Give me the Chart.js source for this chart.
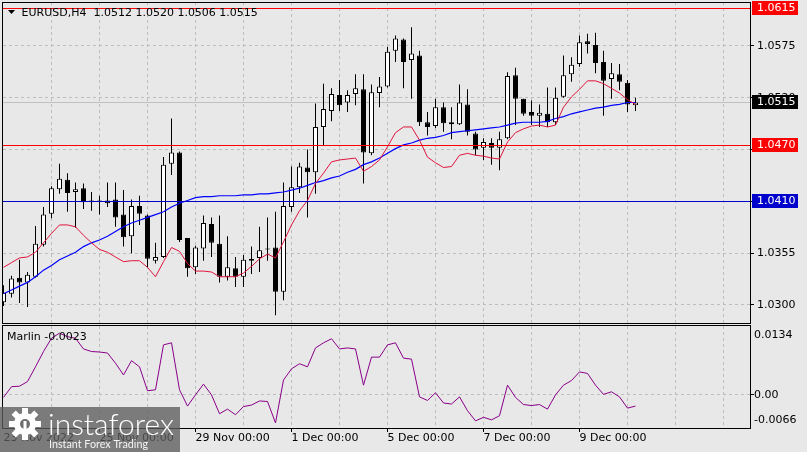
<!DOCTYPE html>
<html><head><meta charset="utf-8">
<script src="https://cdn.jsdelivr.net/npm/chart.js@4.4.0/dist/chart.umd.min.js"></script>
<style>html,body{margin:0;padding:0;background:#e8e8e8;overflow:hidden}#wrap{width:807px;height:452px;position:relative}canvas{display:block}</style>
</head><body><div id="wrap"><canvas id="c" width="807" height="452"></canvas></div>
<script>
// ---------- DATA ----------
const symbol = "EURUSD,H4";
const open = [1.0303,1.0312,1.0329,1.0324,1.0330,1.0364,1.0397,1.0423,1.0433,1.0420,
1.0424,1.0411,1.0410,1.0411,1.0412,1.0396,1.0373,1.0405,1.0395,1.0347,
1.0351,1.0450,1.0462,1.0371,1.0340,1.0360,1.0386,1.0365,1.0330,1.0339,
1.0330,1.0349,1.0350,1.0359,1.0361,1.0314,1.0404,1.0425,1.0446,1.0441,
1.0489,1.0506,1.0523,1.0515,1.0524,1.0529,1.0461,1.0525,1.0532,1.0570,
1.0582,1.0560,1.0565,1.0494,1.0490,1.0510,1.0494,1.0492,1.0513,1.0482,
1.0467,1.0472,1.0467,1.0477,1.0544,1.0519,1.0505,1.0501,1.0503,1.0494,
1.0521,1.0545,1.0556,1.0580,1.0576,1.0558,1.0540,1.0545,1.0536,1.0512];
const high = [1.0321,1.0331,1.0348,1.0335,1.0384,1.0404,1.0426,1.0450,1.0440,1.0430,
1.0429,1.0420,1.0416,1.0430,1.0430,1.0422,1.0412,1.0416,1.0396,1.0366,
1.0457,1.0498,1.0463,1.0371,1.0363,1.0395,1.0393,1.0395,1.0373,1.0351,
1.0353,1.0362,1.0383,1.0393,1.0399,1.0430,1.0447,1.0451,1.0465,1.0514,
1.0535,1.0530,1.0539,1.0528,1.0545,1.0545,1.0534,1.0542,1.0574,1.0586,
1.0583,1.0595,1.0570,1.0505,1.0519,1.0515,1.0510,1.0534,1.0529,1.0484,
1.0477,1.0477,1.0484,1.0547,1.0552,1.0519,1.0517,1.0513,1.0531,1.0531,
1.0565,1.0563,1.0586,1.0588,1.0589,1.0570,1.0557,1.0556,1.0539,1.0520];
const low = [1.0299,1.0308,1.0302,1.0298,1.0329,1.0362,1.0392,1.0418,1.0399,1.0382,
1.0402,1.0400,1.0396,1.0404,1.0383,1.0362,1.0355,1.0385,1.0340,1.0344,
1.0350,1.0438,1.0367,1.0330,1.0333,1.0347,1.0351,1.0324,1.0326,1.0319,
1.0319,1.0333,1.0335,1.0347,1.0289,1.0305,1.0399,1.0419,1.0393,1.0418,
1.0470,1.0495,1.0506,1.0505,1.0512,1.0429,1.0459,1.0510,1.0531,1.0558,
1.0530,1.0519,1.0490,1.0480,1.0488,1.0484,1.0476,1.0491,1.0480,1.0459,
1.0454,1.0449,1.0443,1.0476,1.0491,1.0501,1.0491,1.0489,1.0489,1.0491,
1.0520,1.0537,1.0553,1.0567,1.0546,1.0501,1.0519,1.0528,1.0505,1.0506];
const close = [1.0313,1.0328,1.0324,1.0332,1.0365,1.0396,1.0424,1.0434,1.0419,1.0423,
1.0409,1.0409,1.0410,1.0408,1.0393,1.0372,1.0405,1.0397,1.0349,1.0351,
1.0449,1.0462,1.0369,1.0339,1.0361,1.0387,1.0366,1.0330,1.0340,1.0330,
1.0348,1.0347,1.0358,1.0360,1.0314,1.0405,1.0425,1.0447,1.0441,1.0489,
1.0508,1.0524,1.0512,1.0523,1.0530,1.0462,1.0526,1.0532,1.0569,1.0583,
1.0558,1.0567,1.0494,1.0489,1.0510,1.0493,1.0492,1.0515,1.0484,1.0465,
1.0473,1.0467,1.0476,1.0543,1.0519,1.0503,1.0501,1.0504,1.0494,1.0520,
1.0544,1.0555,1.0579,1.0577,1.0557,1.0538,1.0546,1.0537,1.0513,1.0515];
const maFast = [1.0340,1.0345,1.0350,1.0351,1.0356,1.0366,1.0376,1.0385,1.0385,1.0383,
1.0374,1.0366,1.0359,1.0356,1.0351,1.0346,1.0347,1.0347,1.0340,1.0330,
1.0346,1.0361,1.0357,1.0344,1.0336,1.0336,1.0335,1.0330,1.0330,1.0330,
1.0334,1.0341,1.0349,1.0354,1.0350,1.0367,1.0385,1.0400,1.0411,1.0429,
1.0440,1.0452,1.0454,1.0455,1.0456,1.0442,1.0447,1.0454,1.0468,1.0483,
1.0489,1.0489,1.0475,1.0457,1.0451,1.0446,1.0447,1.0459,1.0461,1.0459,
1.0458,1.0456,1.0455,1.0473,1.0483,1.0487,1.0490,1.0491,1.0489,1.0491,
1.0510,1.0521,1.0529,1.0538,1.0538,1.0535,1.0530,1.0525,1.0518,1.0513];
const maSlow = [1.0312,1.0316,1.0320,1.0324,1.0330,1.0337,1.0342,1.0348,1.0352,1.0356,
1.0362,1.0366,1.0369,1.0373,1.0378,1.0383,1.0387,1.0390,1.0393,1.0396,
1.0399,1.0404,1.0408,1.0411,1.0414,1.0415,1.0415,1.0416,1.0416,1.0416,
1.0417,1.0417,1.0418,1.0418,1.0419,1.0420,1.0422,1.0424,1.0427,1.0430,
1.0432,1.0435,1.0437,1.0441,1.0444,1.0449,1.0452,1.0456,1.0461,1.0466,
1.0470,1.0472,1.0475,1.0477,1.0478,1.0480,1.0483,1.0484,1.0485,1.0486,
1.0487,1.0488,1.0489,1.0491,1.0493,1.0494,1.0494,1.0494,1.0495,1.0498,
1.0500,1.0503,1.0505,1.0507,1.0509,1.0510,1.0512,1.0513,1.0515,1.0515];
const marlin = [-0.0006,0.0015,0.0016,0.0025,0.0054,0.0084,0.0110,0.0120,0.0113,0.0110,
0.0089,0.0084,0.0083,0.0081,0.0061,0.0038,0.0066,0.0054,0.0007,0.0009,
0.0097,0.0101,0.0009,-0.0023,-0.0001,0.0020,-0.0001,-0.0038,-0.0029,-0.0040,
-0.0024,-0.0021,-0.0013,-0.0014,-0.0056,0.0028,0.0050,0.0060,0.0054,0.0091,
0.0101,0.0109,0.0089,0.0091,0.0089,0.0018,0.0073,0.0073,0.0097,0.0101,
0.0071,0.0069,-0.0005,-0.0012,0.0003,-0.0017,-0.0019,-0.0005,-0.0032,-0.0052,
-0.0045,-0.0050,-0.0042,0.0018,-0.0006,-0.0020,-0.0022,-0.0020,-0.0029,-0.0001,
0.0018,0.0027,0.0044,0.0041,0.0018,0.0000,0.0005,-0.0005,-0.0027,-0.0023];
const timeTickIdx = [0,12,24,36,48,60,72];
const timeTickLabels = ["23 Nov 2022","25 Nov 00:00","29 Nov 00:00","1 Dec 00:00","5 Dec 00:00","7 Dec 00:00","9 Dec 00:00"];
const priceTicks = [1.0300,1.0355,1.0410,1.0465,1.0520,1.0575];
const redLevels = [1.0615,1.0470];
const blueLevels = [1.0410];
const marlinTicks = [0.0134,0.00,-0.0066];

// ---------- CHART ----------
const FONT = '"DejaVu Sans", sans-serif';
const BG = '#e8e8e8';
const GRID = '#bcbcbc';
const N = open.length;
const idx = Array.from({length:N},(_,i)=>i);
const isBull = idx.map(i => close[i] >= open[i]);

const mtPlugin = {
  id:'mt',
  beforeDraw(chart){
    const c = chart.ctx; c.save(); c.fillStyle = BG; c.fillRect(0,0,chart.width,chart.height); c.restore();
  },
  beforeDatasetsDraw(chart){
    const c = chart.ctx, a = chart.chartArea, ys = chart.scales.y, y2 = chart.scales.y2;
    c.save();
    c.lineWidth = 1;
    const z = Math.round(y2.getPixelForValue(0)) + 0.5;
    c.strokeStyle = GRID; c.setLineDash([3,3]);
    c.beginPath(); c.moveTo(a.left, z); c.lineTo(a.right, z); c.stroke();
    c.setLineDash([]);
    const py = Math.round(ys.getPixelForValue(close[N-1])) + 0.5;
    c.strokeStyle = '#c0c0c0';
    c.beginPath(); c.moveTo(a.left, py); c.lineTo(a.right, py); c.stroke();
    c.restore();
  },
  afterDatasetsDraw(chart){
    const c = chart.ctx, a = chart.chartArea, ys = chart.scales.y, y2 = chart.scales.y2;
    c.save();
    c.lineWidth = 1;
    const hline = (v, col) => {
      const p = Math.round(ys.getPixelForValue(v)) + 0.5;
      c.strokeStyle = col; c.beginPath(); c.moveTo(a.left, p); c.lineTo(a.right, p); c.stroke();
    };
    redLevels.forEach(v => hline(v, '#ff0000'));
    blueLevels.forEach(v => hline(v, '#0000cd'));
    // gap between panes + borders
    const mainBottom = Math.round(ys.getPixelForValue(ys.min)) ;
    c.fillStyle = BG; c.fillRect(0, 324, a.right + 1, 2);
    c.strokeStyle = '#000';
    c.strokeRect(2.5, 2.5, a.right - 2, 321);
    c.strokeRect(2.5, 325.5, a.right - 2, a.bottom - 325);
    // price boxes
    c.font = '11px ' + FONT; c.textBaseline = 'middle'; c.textAlign = 'left';
    const box = (v, bg) => {
      const p = Math.round(ys.getPixelForValue(v));
      c.fillStyle = bg; c.fillRect(752, p - 7, 46, 14);
      c.fillStyle = '#fff'; c.fillText(v.toFixed(4), 757, p + 0.5);
    };
    box(close[N-1], '#000000');
    redLevels.forEach(v => box(v, '#ff0000'));
    blueLevels.forEach(v => box(v, '#0000cd'));
    // oscillator labels
    c.fillStyle = '#000';
    c.fillText(marlinTicks[0].toFixed(4), 754, y2.getPixelForValue(marlinTicks[0]) + 9);
    c.fillText(marlinTicks[1].toFixed(2), 754, y2.getPixelForValue(marlinTicks[1]) + 1);
    c.fillText(marlinTicks[2].toFixed(4), 754, y2.getPixelForValue(marlinTicks[2]) - 8);
    c.beginPath(); const zz = Math.round(y2.getPixelForValue(0)) + 0.5;
    c.moveTo(a.right, zz); c.lineTo(a.right + 4, zz); c.stroke();
    // title
    c.beginPath(); c.moveTo(8, 10); c.lineTo(15, 10); c.lineTo(11.5, 14); c.closePath(); c.fill();
    const title = symbol + '  ' + [open[N-1], high[N-1], low[N-1], close[N-1]].map(v => v.toFixed(4)).join(' ');
    c.fillText(title, 21.5, 13);
    c.fillText('Marlin ' + marlin[N-1].toFixed(4), 7, 337);
    c.restore();
  },
  afterDraw(chart){
    const c = chart.ctx;
    c.save();
    c.fillStyle = 'rgba(92,92,92,0.78)';
    c.fillRect(0, 407, 180, 45);
    const gx = 25, gy = 424;
    c.fillStyle = '#ffffff';
    c.beginPath(); c.arc(gx, gy, 11, 0, Math.PI * 2); c.fill();
    for (let k = 0; k < 8; k++) {
      c.save(); c.translate(gx, gy); c.rotate(k * Math.PI / 4);
      c.fillRect(-3, -16, 6, 7); c.restore();
    }
    c.fillStyle = 'rgba(110,110,110,1)';
    c.beginPath(); c.arc(gx, gy, 5, 0, Math.PI * 2); c.fill();
    c.fillStyle = '#ffffff';
    c.fillRect(gx - 1.5, gy - 3, 3, 12);
    c.textBaseline = 'alphabetic'; c.textAlign = 'left';
    c.font = '300 29px Lato, "Open Sans", sans-serif';
    let w = c.measureText('instaforex').width;
    c.save(); c.translate(48, 435); c.scale(126 / w, 1); c.fillText('instaforex', 0, 0); c.restore();
    c.font = '11px Lato, "Open Sans", sans-serif';
    c.fillStyle = 'rgba(255,255,255,0.92)';
    w = c.measureText('Instant Forex Trading').width;
    c.save(); c.translate(49, 448); c.scale(99 / w, 1); c.fillText('Instant Forex Trading', 0, 0); c.restore();
    c.restore();
  }
};

new Chart(document.getElementById('c').getContext('2d'), {
  type: 'bar',
  data: {
    datasets: [
      { type:'line', label:'MA fast', data: idx.map(i => ({x:i, y:maFast[i]})), yAxisID:'y',
        borderColor:'#e0143c', borderWidth:1, pointRadius:0, tension:0, order:1 },
      { type:'line', label:'MA slow', data: idx.map(i => ({x:i, y:maSlow[i]})), yAxisID:'y',
        borderColor:'#0000ff', borderWidth:1.2, pointRadius:0, tension:0, order:1 },
      { type:'line', label:'Marlin', data: idx.map(i => ({x:i, y:marlin[i]})), yAxisID:'y2',
        borderColor:'#8a008a', borderWidth:1, pointRadius:0, tension:0, order:1 },
      { type:'bar', label:'body', data: idx.map(i => ({x:i, y:[open[i], close[i]]})), yAxisID:'y',
        backgroundColor: isBull.map(b => b ? '#ffffff' : '#000000'), borderColor:'#000000',
        borderWidth:1, borderSkipped:false, barThickness:5, grouped:false, minBarLength:1, inflateAmount:0, order:2 },
      { type:'bar', label:'wick', data: idx.map(i => ({x:i, y:[low[i], high[i]]})), yAxisID:'y',
        backgroundColor:'#000000', borderWidth:0, barThickness:1, grouped:false, inflateAmount:0, order:3 }
    ]
  },
  options: {
    responsive:false, maintainAspectRatio:false, animation:false, devicePixelRatio:1,
    layout:{ padding:{ left:3, top:2, right:0, bottom:0 } },
    plugins:{ legend:{display:false}, tooltip:{enabled:false} },
    scales:{
      x:{
        type:'linear', offset:false, min:-0.0625, max:93.3125,
        afterBuildTicks: s => { const t = []; for (let v = 0; v <= 90; v += 6) t.push({value:v}); s.ticks = t; },
        afterFit: s => { s.height = 24; s.paddingLeft = 0; s.paddingRight = 0; },
        ticks:{ autoSkip:false, maxRotation:0, minRotation:0, align:'start', padding:0, color:'#000',
          font:{ family:FONT, size:11 },
          callback: v => { const k = timeTickIdx.indexOf(v); return k >= 0 ? timeTickLabels[k] : ''; } },
        grid:{ offset:false, color: ctx => (ctx.tick && ctx.tick.value === 0) ? 'rgba(0,0,0,0)' : GRID,
          tickColor: ctx => (ctx.tick && ctx.tick.value > 0 && timeTickIdx.includes(ctx.tick.value)) ? '#000' : 'rgba(0,0,0,0)',
          tickLength:4, drawTicks:true },
        border:{ display:false, dash:[3,3] }
      },
      y:{
        position:'right', min:1.01694, max:1.06217,
        afterBuildTicks: s => { s.ticks = priceTicks.map(v => ({value:v})); },
        afterFit: s => { s.width = 57; s.paddingTop = 0; s.paddingBottom = 0; },
        ticks:{ autoSkip:false, padding:3, color:'#000', font:{ family:FONT, size:11 }, callback: v => Number(v).toFixed(4) },
        grid:{ color:GRID, tickColor:'#000', tickLength:4, drawTicks:true },
        border:{ display:false, dash:[3,3] }
      },
      y2:{ display:false, position:'right', min:-0.0066, max:0.07693 }
    }
  },
  plugins:[mtPlugin]
});
</script>
</body></html>
